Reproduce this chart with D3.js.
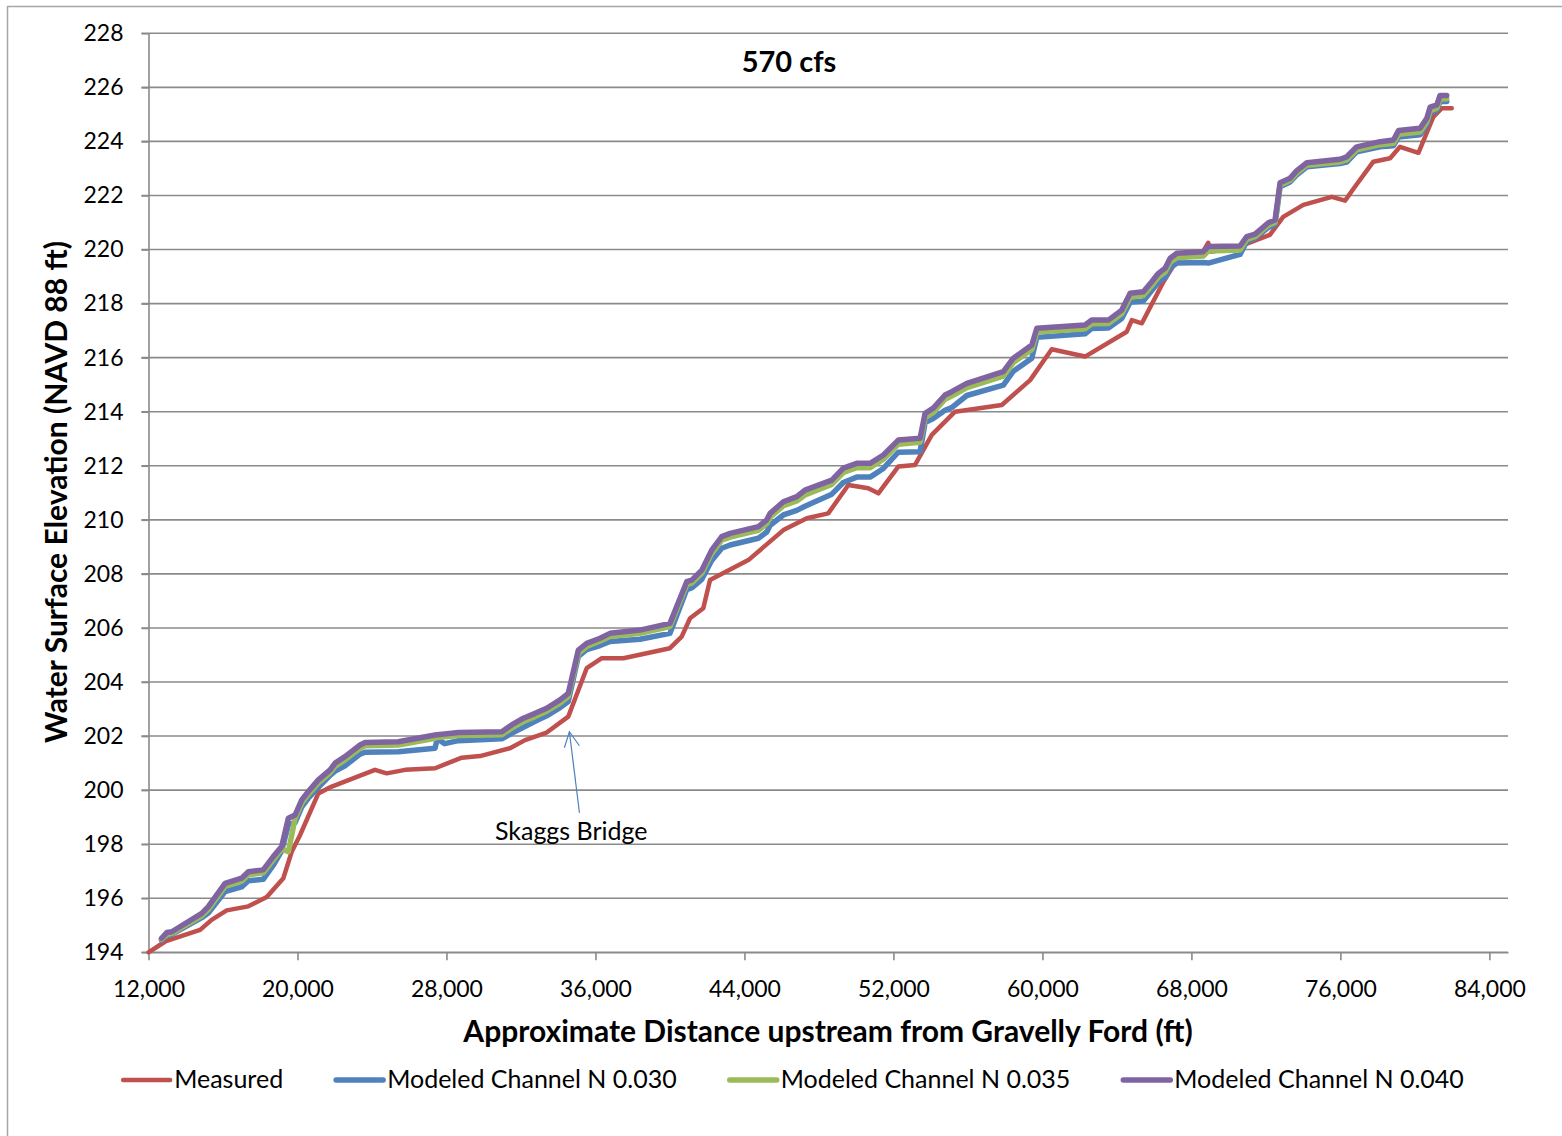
<html>
<head>
<script src="https://cdn.jsdelivr.net/npm/d3@7"></script>
<style>
  body { margin: 0; background: #fff; }
  text { font-family: Lato, "Open Sans", sans-serif; fill: #000; }
</style>
</head>
<body>
<svg width="1562" height="1136"></svg>
<script>
// ---- data ----
const seriesNames = ["Measured", "Modeled Channel N 0.030", "Modeled Channel N 0.035", "Modeled Channel N 0.040"];
const seriesColors = ["#C0504D", "#4F81BD", "#9BBB59", "#8064A2"];

const measuredDist = [12000, 12900, 14770, 15390, 16200, 17360, 18350, 19240, 19690, 20140, 21120, 21840,
  24160, 24790, 25780, 27390, 28820, 29800, 31410, 32220, 33380, 34540, 35530, 36340, 37500, 40000, 40630,
  41080, 41790, 42150, 44210, 46090, 47350, 48500, 49580, 50650, 51190, 52260, 53160, 54060, 55310, 57820,
  59340, 60500, 62290, 64530, 64800, 65340, 66500, 67220, 67700, 68500, 68900, 69050, 70600, 72210, 72930,
  74010, 75540, 76250, 76790, 77770, 78670, 79200, 80190, 80990, 81450, 81980];
const measured = [194.0, 194.4, 194.83, 195.2, 195.55, 195.7, 196.05, 196.74, 197.72, 198.34, 199.88, 200.13,
  200.75, 200.62, 200.75, 200.81, 201.2, 201.26, 201.55, 201.85, 202.13, 202.72, 204.51, 204.88, 204.88, 205.25, 205.68,
  206.36, 206.73, 207.77, 208.51, 209.62, 210.06, 210.24, 211.29, 211.17, 210.98, 211.97, 212.03, 213.14, 214.0, 214.25,
  215.17, 216.31, 216.04, 216.96, 217.39, 217.27, 218.81, 219.61, 219.75, 219.78, 220.25, 219.92, 220.12, 220.54, 221.21,
  221.65, 221.95, 221.81, 222.33, 223.25, 223.38, 223.8, 223.58, 224.91, 225.23, 225.23];

const modelDist = [12700, 12980, 13250, 14860, 15210, 16110, 17000, 17360, 18160, 18700, 19150, 19510, 19870,
  20230, 20580, 21120, 21750, 22020, 22550, 23360, 23630, 25410, 27390, 27500, 27900, 28640, 30970, 31500, 32130,
  32760, 33380, 34100, 34540, 35080, 35530, 36250, 36780, 38390, 40000, 40900, 41170, 41710, 42240, 42780, 43230,
  44750, 45200, 45380, 46090, 46810, 47250, 48690, 49310, 50030, 50750, 51460, 52260, 53430, 53700, 54140, 54770,
  55130, 55940, 57900, 58440, 59430, 59700, 62290, 62650, 63540, 64260, 64710, 65420, 65870, 66230, 66590, 66860,
  67220, 68640, 68910, 70610, 70970, 71420, 72130, 72490, 72760, 73300, 73660, 74200, 75980, 76340, 76880, 78130,
  78850, 79120, 80280, 80640, 80820, 81180, 81350, 81710];
const n040 = [194.52, 194.73, 194.76, 195.44, 195.69, 196.55, 196.74, 196.98, 197.05, 197.54, 197.91, 198.96, 199.08,
  199.64, 199.95, 200.38, 200.75, 201.0, 201.24, 201.67, 201.76, 201.79, 202.04, 202.05, 202.08, 202.13, 202.16, 202.41, 202.66,
  202.84, 203.03, 203.34, 203.58, 205.18, 205.43, 205.62, 205.8, 205.92, 206.17, 207.71, 207.77, 208.14, 208.88, 209.38, 209.5,
  209.75, 210.0, 210.24, 210.67, 210.86, 211.1, 211.47, 211.91, 212.09, 212.09, 212.4, 212.95, 213.02, 213.94, 214.13, 214.62,
  214.74, 215.05, 215.48, 215.98, 216.47, 217.09, 217.21, 217.39, 217.39, 217.76, 218.38, 218.44, 218.81, 219.12, 219.31, 219.68,
  219.86, 219.92, 220.11, 220.13, 220.48, 220.57, 220.99, 221.09, 222.47, 222.64, 222.92, 223.21, 223.34, 223.43, 223.8, 223.99,
  224.05, 224.4, 224.49, 224.86, 225.27, 225.35, 225.7, 225.7];
const n035 = [194.48, 194.66, 194.7, 195.35, 195.58, 196.44, 196.63, 196.87, 196.94, 197.42, 197.82, 197.72, 198.95,
  199.52, 199.84, 200.27, 200.64, 200.88, 201.12, 201.55, 201.64, 201.67, 201.92, 201.95, 201.97, 202.02, 202.05, 202.29, 202.54,
  202.72, 202.92, 203.22, 203.46, 205.05, 205.32, 205.52, 205.68, 205.8, 206.05, 207.6, 207.66, 208.02, 208.75, 209.25, 209.36,
  209.61, 209.86, 210.1, 210.52, 210.7, 210.92, 211.31, 211.75, 211.93, 211.93, 212.24, 212.8, 212.87, 213.78, 213.97, 214.46,
  214.58, 214.89, 215.32, 215.82, 216.3, 216.95, 217.07, 217.25, 217.26, 217.62, 218.24, 218.3, 218.67, 218.98, 219.17, 219.53,
  219.7, 219.76, 219.95, 219.98, 220.38, 220.48, 220.9, 221.0, 222.38, 222.56, 222.83, 223.12, 223.24, 223.32, 223.69, 223.88,
  223.93, 224.26, 224.35, 224.72, 225.14, 225.23, 225.58, 225.58];
const n030 = [194.45, 194.62, 194.66, 195.28, 195.45, 196.25, 196.42, 196.65, 196.7, 197.22, 197.75, 198.72, 198.8,
  199.38, 199.7, 200.1, 200.55, 200.7, 200.9, 201.33, 201.4, 201.42, 201.55, 201.9, 201.72, 201.83, 201.9, 202.1, 202.32,
  202.55, 202.75, 203.05, 203.28, 204.95, 205.2, 205.35, 205.5, 205.58, 205.8, 207.42, 207.48, 207.8, 208.5, 208.95, 209.07,
  209.32, 209.55, 209.8, 210.18, 210.35, 210.5, 210.95, 211.38, 211.58, 211.58, 211.9, 212.5, 212.52, 213.6, 213.75, 214.05,
  214.15, 214.6, 214.98, 215.5, 215.98, 216.75, 216.88, 217.08, 217.1, 217.45, 218.05, 218.1, 218.48, 218.8, 218.97, 219.32,
  219.5, 219.52, 219.5, 219.82, 220.3, 220.42, 220.82, 220.92, 222.32, 222.5, 222.76, 223.06, 223.18, 223.24, 223.62, 223.8,
  223.84, 224.16, 224.25, 224.62, 225.05, 225.15, 225.48, 225.48];

const xTicks = [12000, 20000, 28000, 36000, 44000, 52000, 60000, 68000, 76000, 84000];
const yTicks = [194, 196, 198, 200, 202, 204, 206, 208, 210, 212, 214, 216, 218, 220, 222, 224, 226, 228];

// ---- layout ----
const svg = d3.select("svg");
const plotLeft = 148.5, plotRight = 1508, plotTop = 33.3, plotBottom = 952.3;
const x = d3.scaleLinear().domain([12000, 85000]).range([plotLeft, plotRight]);
const y = d3.scaleLinear().domain([194, 228]).range([plotBottom, plotTop]);
const gridColor = "#8a8a8a";

// chart frame (runs off the picture on right and bottom)
svg.append("rect").attr("x", 7.5).attr("y", 6.5).attr("width", 1700).attr("height", 1300)
  .attr("fill", "none").attr("stroke", "#a6a6a6").attr("stroke-width", 1.5);

// horizontal gridlines
svg.append("g").selectAll("line").data(yTicks).enter().append("line")
  .attr("x1", plotLeft - 7).attr("x2", plotRight)
  .attr("y1", d => y(d)).attr("y2", d => y(d))
  .attr("stroke", gridColor).attr("stroke-width", 1.6);

// axes
const yAxis = svg.append("g").attr("transform", `translate(${plotLeft},0)`)
  .call(d3.axisLeft(y).tickValues(yTicks).tickSize(7).tickSizeOuter(0).tickPadding(18));
const xAxis = svg.append("g").attr("transform", `translate(0,${plotBottom})`)
  .call(d3.axisBottom(x).tickValues(xTicks).tickSize(8).tickSizeOuter(0).tickFormat(d3.format(",")));
[yAxis, xAxis].forEach(g => {
  g.select(".domain").attr("stroke", gridColor).attr("stroke-width", 1.6);
  g.selectAll(".tick line").attr("stroke", gridColor).attr("stroke-width", 1.6);
  g.selectAll("text").style("font-family", "Lato, sans-serif").style("font-size", "23px").attr("fill", "#000");
});
xAxis.selectAll("text").attr("y", 45).attr("dy", null);

// series
const line = d3.line().x(d => x(d[0])).y(d => y(d[1]));
const seriesData = [
  d3.zip(measuredDist, measured),
  d3.zip(modelDist, n030),
  d3.zip(modelDist, n035),
  d3.zip(modelDist, n040)
];
const widths = [4.5, 5.5, 5.5, 5.5];
svg.append("g").selectAll("path").data(seriesData).enter().append("path")
  .attr("d", line)
  .attr("fill", "none")
  .attr("stroke", (d, i) => seriesColors[i])
  .attr("stroke-width", (d, i) => widths[i])
  .attr("stroke-linejoin", "round")
  .attr("stroke-linecap", "round");

// annotation: Skaggs Bridge
const arrowTip = [34600, 202.16], arrowTail = [35140, 199.16];
const tipX = x(arrowTip[0]), tipY = y(arrowTip[1]);
svg.append("line").attr("x1", x(arrowTail[0])).attr("y1", y(arrowTail[1]))
  .attr("x2", tipX).attr("y2", tipY)
  .attr("stroke", "#4F81BD").attr("stroke-width", 1.2);
svg.append("path")
  .attr("d", `M${tipX - 5},${tipY + 16} L${tipX},${tipY} L${tipX + 10},${tipY + 14}`)
  .attr("fill", "none").attr("stroke", "#4F81BD").attr("stroke-width", 1.2);
svg.append("text").attr("x", x(34700)).attr("y", 840)
  .attr("text-anchor", "middle").style("font-size", "25px").text("Skaggs Bridge");

// titles
svg.append("text").attr("x", 789).attr("y", 72).attr("text-anchor", "middle")
  .style("font-size", "29px").style("font-weight", "bold").text("570 cfs");
svg.append("text").attr("x", 828).attr("y", 1042).attr("text-anchor", "middle")
  .style("font-size", "30px").style("font-weight", "bold")
  .text("Approximate Distance upstream from Gravelly Ford (ft)");
svg.append("text").attr("transform", "translate(67,492) rotate(-90)").attr("text-anchor", "middle")
  .style("font-size", "30px").style("font-weight", "bold")
  .text("Water Surface Elevation (NAVD 88 ft)");

// legend
const legend = svg.append("g");
const items = legend.selectAll("g").data(seriesNames).enter().append("g");
items.append("line").attr("x1", 0).attr("x2", 47).attr("y1", 0).attr("y2", 0)
  .attr("stroke", (d, i) => seriesColors[i]).attr("stroke-width", (d, i) => widths[i])
  .attr("stroke-linecap", "round");
items.append("text").attr("x", 51).attr("y", 8).style("font-size", "25px").text(d => d);
let cursor = 0;
items.each(function () {
  const w = this.getBBox().width;
  d3.select(this).attr("data-off", cursor);
  cursor += w + 53;
});
const legendW = cursor - 53;
const legendX = 793.5 - legendW / 2;
items.attr("transform", function () { return `translate(${legendX + (+this.getAttribute("data-off"))},1080)`; });
</script>
</body>
</html>
